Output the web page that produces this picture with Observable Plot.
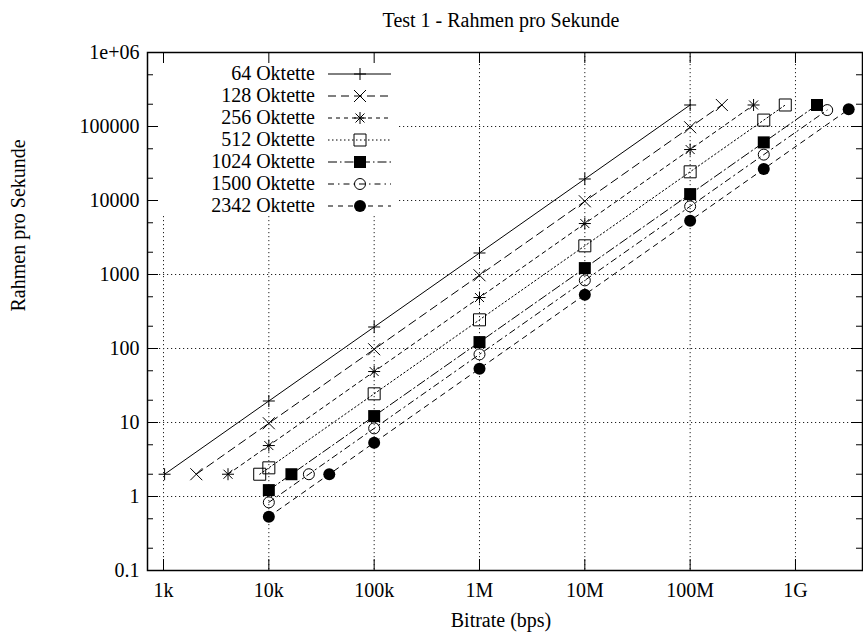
<!DOCTYPE html>
<html><head><meta charset="utf-8">
<script src="https://cdn.jsdelivr.net/npm/d3@7"></script>
<script src="https://cdn.jsdelivr.net/npm/@observablehq/plot@0.6"></script>
<style>body{margin:0;background:#fff} #chart{width:863px;height:636px}</style>
</head><body><div id="chart"></div>
<script>
// ---- data ----
const seriesNames = ["64 Oktette", "128 Oktette", "256 Oktette", "512 Oktette", "1024 Oktette", "1500 Oktette", "2342 Oktette"];
const bitrate64   = [1024, 1e4, 1e5, 1e6, 1e7, 1e8];
const fps64       = [2, 19.53, 195.3, 1953, 19531, 195312];
const bitrate128  = [2048, 1e4, 1e5, 1e6, 1e7, 1e8, 2e8];
const fps128      = [2, 9.77, 97.66, 976.6, 9766, 97656, 195312];
const bitrate256  = [4096, 1e4, 1e5, 1e6, 1e7, 1e8, 4e8];
const fps256      = [2, 4.88, 48.83, 488.3, 4883, 48828, 195312];
const bitrate512  = [8192, 1e4, 1e5, 1e6, 1e7, 1e8, 5e8, 8e8];
const fps512      = [2, 2.44, 24.41, 244.1, 2441, 24414, 122070, 195312];
const bitrate1024 = [16384, 1e4, 1e5, 1e6, 1e7, 1e8, 5e8, 1.6e9];
const fps1024     = [2, 1.22, 12.21, 122.1, 1221, 12207, 61035, 195312];
const bitrate1500 = [24000, 1e4, 1e5, 1e6, 1e7, 1e8, 5e8, 2e9];
const fps1500     = [2, 0.833, 8.33, 83.3, 833, 8333, 41667, 166667];
const bitrate2342 = [37472, 1e4, 1e5, 1e6, 1e7, 1e8, 5e8, 3.2e9];
const fps2342     = [2, 0.534, 5.34, 53.4, 533.7, 5337, 26687, 170794];

const xTickValues = [1e3, 1e4, 1e5, 1e6, 1e7, 1e8, 1e9];
const xTickLabels = ["1k", "10k", "100k", "1M", "10M", "100M", "1G"];
const yTickValues = [0.1, 1, 10, 100, 1000, 10000, 100000, 1e6];
const yTickLabels = ["0.1", "1", "10", "100", "1000", "10000", "100000", "1e+06"];
const yMinorValues = [0.2, 0.5, 2, 5, 20, 50, 200, 500, 2000, 5000, 20000, 50000, 200000, 500000];

const titleText = "Test 1 - Rahmen pro Sekunde";
const xLabelText = "Bitrate (bps)";
const yLabelText = "Rahmen pro Sekunde";

// ---- styling ----
const FONT = "'Liberation Serif', 'Times New Roman', serif";
const H = 6;
const sym = {
  plus: {draw(c) { c.moveTo(-H, 0); c.lineTo(H, 0); c.moveTo(0, -H); c.lineTo(0, H); }},
  times: {draw(c) { c.moveTo(-H, -H); c.lineTo(H, H); c.moveTo(-H, H); c.lineTo(H, -H); }},
  star: {draw(c) { const d = H*0.75; c.moveTo(-H, 0); c.lineTo(H, 0); c.moveTo(0, -H); c.lineTo(0, H);
                   c.moveTo(-d, -d); c.lineTo(d, d); c.moveTo(-d, d); c.lineTo(d, -d); }},
  square: {draw(c) { c.rect(-H, -H, 2*H, 2*H); }},
  circle: {draw(c) { c.moveTo(5.5, 0); c.arc(0, 0, 5.5, 0, 2*Math.PI); c.closePath(); }},
  disc: {draw(c) { c.moveTo(6, 0); c.arc(0, 0, 6, 0, 2*Math.PI); c.closePath(); }}
};
const seriesStyle = [
  {dash: null, symbol: sym.plus, filled: false},
  {dash: "8,5", symbol: sym.times, filled: false},
  {dash: "4,4", symbol: sym.star, filled: false},
  {dash: "1.5,2.5", symbol: sym.square, filled: false},
  {dash: "9,3,1.5,3", symbol: sym.square, filled: true},
  {dash: "6,4,1.5,4", symbol: sym.circle, filled: false},
  {dash: "5,5", symbol: sym.disc, filled: true}
];
const bitrates = [bitrate64, bitrate128, bitrate256, bitrate512, bitrate1024, bitrate1500, bitrate2342];
const fpss = [fps64, fps128, fps256, fps512, fps1024, fps1500, fps2342];
const series = seriesNames.map((name, i) => ({
  name, style: seriesStyle[i],
  data: bitrates[i].map((b, j) => ({x: b, y: fpss[i][j]})).sort((a, b) => a.x - b.x)
}));

const W = 863, HT = 636, mL = 147, mR = 1, mT = 52, mB = 66;
const fw = W - mL - mR, fh = HT - mT - mB;
const MAJ = 11, MIN = 6;

const marks = [
  Plot.ruleX(xTickValues, {stroke: "#222", strokeDasharray: "1.2,2.8"}),
  Plot.ruleY(yTickValues, {stroke: "#222", strokeDasharray: "1.2,2.8"}),
  Plot.ruleX(xTickValues, {stroke: "black", insetTop: fh - MAJ}),
  Plot.ruleX(xTickValues, {stroke: "black", insetBottom: fh - MAJ}),
  Plot.ruleY(yTickValues, {stroke: "black", insetRight: fw - MAJ}),
  Plot.ruleY(yTickValues, {stroke: "black", insetLeft: fw - MAJ}),
  Plot.ruleY(yMinorValues, {stroke: "black", insetRight: fw - MIN}),
  Plot.ruleY(yMinorValues, {stroke: "black", insetLeft: fw - MIN}),
  Plot.frame({stroke: "black", strokeWidth: 1.5})
];
for (const s of series) {
  marks.push(Plot.line(s.data, {x: "x", y: "y", stroke: "black", strokeWidth: 1, strokeDasharray: s.style.dash}));
  marks.push(Plot.dot(s.data, {x: "x", y: "y", r: 6, symbol: s.style.symbol,
    fill: s.style.filled ? "black" : "none", stroke: s.style.filled ? "none" : "black", strokeWidth: 1}));
}
marks.push(
  Plot.text(xTickValues, {x: d => d, frameAnchor: "bottom", lineAnchor: "middle", dy: 20, text: (d, i) => xTickLabels[i], fontSize: 20, fill: "black"}),
  Plot.text(yTickValues, {y: d => d, frameAnchor: "left", lineAnchor: "middle", dx: -8, textAnchor: "end", text: (d, i) => yTickLabels[i], fontSize: 20, fill: "black"}),
  Plot.text([titleText], {frameAnchor: "top", lineAnchor: "middle", dy: -32, dx: -4, fontSize: 20, fill: "black"}),
  Plot.text([xLabelText], {frameAnchor: "bottom", lineAnchor: "middle", dy: 50, dx: -4, fontSize: 20, fill: "black"}),
  Plot.text([yLabelText], {frameAnchor: "left", lineAnchor: "middle", dx: -129, rotate: -90, fontSize: 20, fill: "black"})
);

const chart = Plot.plot({
  width: W, height: HT,
  marginLeft: mL, marginRight: mR, marginTop: mT, marginBottom: mB,
  style: {fontFamily: FONT, fontSize: "20px", background: "white", color: "black", overflow: "visible"},
  x: {type: "log", domain: [704.7, 4.328e9], axis: null},
  y: {type: "log", domain: [0.1, 1e6], axis: null},
  marks
});
document.getElementById("chart").appendChild(chart);

// ---- legend (key box with opaque background over the grid) ----
const rules = chart.querySelectorAll(":scope > g[aria-label='rule']");
const legend = d3.create("svg:g").attr("font-family", FONT).attr("font-size", 20);
legend.append("rect").attr("x", mL + 1).attr("y", mT + 1).attr("width", 250).attr("height", 161).attr("fill", "white");
series.forEach((s, i) => {
  const y = 74 + 22 * i;
  legend.append("text").attr("x", 315).attr("y", y).attr("dy", "0.32em").attr("text-anchor", "end").attr("fill", "black").text(s.name);
  legend.append("line").attr("x1", 328).attr("x2", 391).attr("y1", y).attr("y2", y)
    .attr("stroke", "black").attr("stroke-width", 1).attr("stroke-dasharray", s.style.dash);
  const p = d3.path(); s.style.symbol.draw(p, 100);
  legend.append("path").attr("d", p.toString()).attr("transform", `translate(360,${y})`)
    .attr("fill", s.style.filled ? "black" : "none").attr("stroke", s.style.filled ? "none" : "black").attr("stroke-width", 1);
});
if (rules.length >= 2) rules[1].after(legend.node()); else chart.appendChild(legend.node());
</script>
</body></html>
